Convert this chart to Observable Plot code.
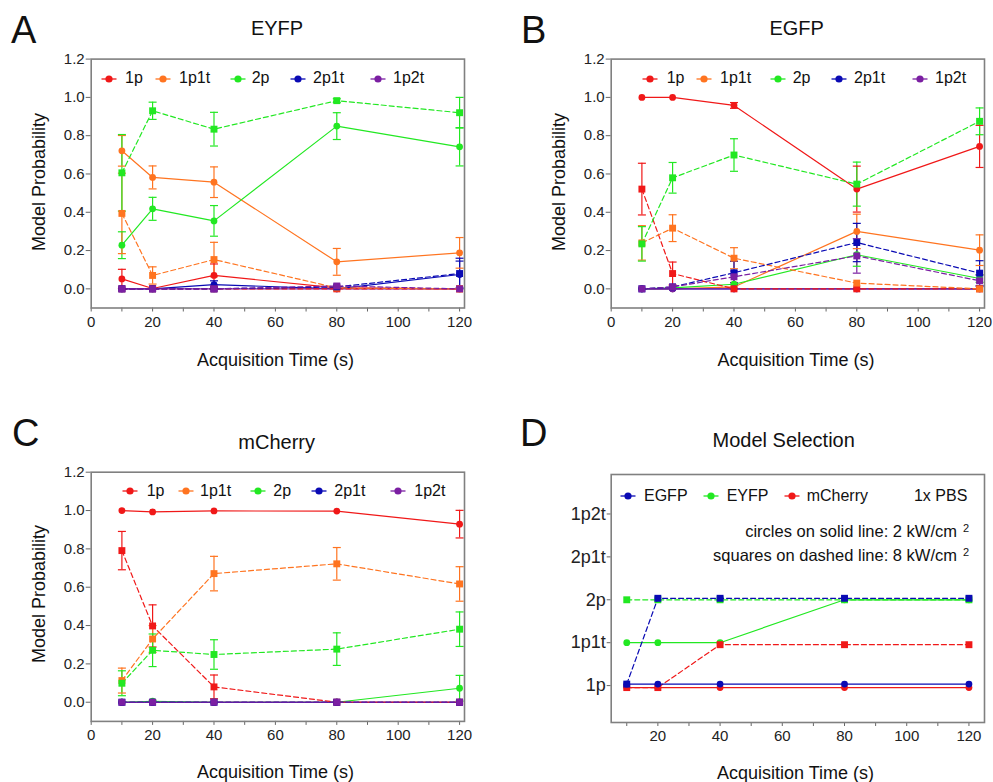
<!DOCTYPE html>
<html><head><meta charset="utf-8">
<script src="https://cdn.jsdelivr.net/npm/d3@7"></script>
<script src="https://cdn.jsdelivr.net/npm/@observablehq/plot@0.6"></script>
<style>
body{margin:0;background:#fff;font-family:"Liberation Sans",Arial,sans-serif;}
#root{position:relative;width:993px;height:782px;overflow:hidden;background:#fff;}
.t{position:absolute;white-space:nowrap;line-height:1;color:#111;}
.p{position:absolute;}
</style></head><body><div id="root"></div>
<script>
// ---------- data ----------
const times = [10, 20, 40, 80, 120];
const models = ["1p", "1p1t", "2p", "2p1t", "1p2t"];
const modelColors = ["#f01818", "#ff7420", "#22e822", "#0a0ab4", "#7b1fa2"];
const xTicksMinor = [0, 10, 20, 30, 40, 50, 60, 70, 80, 90, 100, 110, 120];
const xTicksMajor = [0, 20, 40, 60, 80, 100, 120];
const yTicks = [0, 0.2, 0.4, 0.6, 0.8, 1.0, 1.2];

// EYFP (rows follow models order; columns follow times)
const eyfpSolidMean = [
  [0.052, 0.002, 0.07, 0.005, 0],
  [0.721, 0.582, 0.557, 0.141, 0.188],
  [0.228, 0.418, 0.355, 0.850, 0.742],
  [0, 0, 0.022, 0, 0.075],
  [0, 0, 0, 0, 0]];
const eyfpSolidErr = [
  [0.05, 0, 0.06, 0, 0],
  [0.08, 0.06, 0.08, 0.07, 0.08],
  [0.07, 0.06, 0.08, 0.07, 0.10],
  [0, 0, 0.02, 0, 0.07],
  [0, 0, 0, 0, 0]];
const eyfpDashedMean = [
  [0, 0, 0, 0, 0],
  [0.394, 0.07, 0.153, 0.005, 0],
  [0.606, 0.930, 0.834, 0.983, 0.920],
  [0, 0, 0, 0.01, 0.08],
  [0, 0, 0, 0.015, 0]];
const eyfpDashedErr = [
  [0, 0, 0, 0, 0],
  [0.21, 0.045, 0.09, 0, 0],
  [0.20, 0.045, 0.088, 0.01, 0.08],
  [0, 0, 0, 0, 0.08],
  [0, 0, 0, 0, 0]];

// EGFP
const egfpSolidMean = [
  [1.0, 1.0, 0.958, 0.521, 0.744],
  [0, 0, 0.01, 0.30, 0.202],
  [0, 0.005, 0.024, 0.178, 0.054],
  [0, 0, 0, 0, 0],
  [0, 0, 0, 0, 0]];
const egfpSolidErr = [
  [0, 0, 0.015, 0.12, 0.11],
  [0, 0, 0, 0.09, 0.08],
  [0, 0, 0, 0.06, 0.02],
  [0, 0, 0, 0, 0],
  [0, 0, 0, 0, 0]];
const egfpDashedMean = [
  [0.521, 0.08, 0, 0, 0],
  [0.24, 0.317, 0.16, 0.03, 0],
  [0.235, 0.58, 0.699, 0.547, 0.875],
  [0, 0.01, 0.084, 0.242, 0.082],
  [0, 0.01, 0.063, 0.172, 0.042]];
const egfpDashedErr = [
  [0.135, 0.06, 0, 0, 0],
  [0.09, 0.07, 0.055, 0, 0],
  [0.09, 0.08, 0.085, 0.115, 0.07],
  [0, 0, 0.06, 0.10, 0.065],
  [0, 0, 0.03, 0.09, 0.03]];

// mCherry
const mcherrySolidMean = [
  [1.0, 0.993, 0.998, 0.997, 0.929],
  [0, 0, 0, 0, 0],
  [0, 0.005, 0, 0, 0.073],
  [0, 0, 0, 0, 0],
  [0, 0, 0, 0, 0]];
const mcherrySolidErr = [
  [0, 0, 0, 0, 0.072],
  [0, 0, 0, 0, 0],
  [0, 0.005, 0, 0, 0.067],
  [0, 0, 0, 0, 0],
  [0, 0, 0, 0, 0]];
const mcherryDashedMean = [
  [0.791, 0.398, 0.08, 0, 0],
  [0.113, 0.33, 0.671, 0.722, 0.617],
  [0.099, 0.271, 0.249, 0.277, 0.381],
  [0, 0, 0, 0, 0],
  [0, 0, 0, 0, 0]];
const mcherryDashedErr = [
  [0.10, 0.11, 0.062, 0, 0],
  [0.065, 0.07, 0.09, 0.085, 0.09],
  [0.065, 0.085, 0.077, 0.085, 0.09],
  [0, 0, 0, 0, 0],
  [0, 0, 0, 0, 0]];

// Model selection (panel D)
const proteins = ["EGFP", "EYFP", "mCherry"];
const proteinColors = ["#0a0ab4", "#22e822", "#f01818"];
const selSolid = {
  EGFP: ["1p", "1p", "1p", "1p", "1p"],
  EYFP: ["1p1t", "1p1t", "1p1t", "2p", "2p"],
  mCherry: ["1p", "1p", "1p", "1p", "1p"]};
const selDashed = {
  EGFP: ["1p", "2p", "2p", "2p", "2p"],
  EYFP: ["2p", "2p", "2p", "2p", "2p"],
  mCherry: ["1p", "1p", "1p1t", "1p1t", "1p1t"]};
const dXTicksMinor = [10, 20, 30, 40, 50, 60, 70, 80, 90, 100, 110, 120];
const dXTicksMajor = [20, 40, 60, 80, 100, 120];

// ---------- helpers ----------
const root = document.getElementById("root");
const FONT = '"Liberation Sans", Arial, sans-serif';
const capSymbol = {draw(ctx, size) { const r = Math.sqrt(size / Math.PI); ctx.moveTo(-r, 0); ctx.lineTo(r, 0); }};

function txt(s, x, baseline, fs, anchor = "start", opts = {}) {
  const d = document.createElement("div");
  d.className = "t";
  d.innerHTML = s;
  d.style.fontSize = fs + "px";
  d.style.left = x + "px";
  d.style.top = (baseline - 0.8465 * fs) + "px";
  if (anchor === "middle") d.style.transform = "translateX(-50%)";
  if (anchor === "end") d.style.transform = "translateX(-100%)";
  if (opts.color) d.style.color = opts.color;
  root.appendChild(d);
  return d;
}
function vtxt(s, cx, cy, fs) {
  const d = document.createElement("div");
  d.className = "t";
  d.textContent = s;
  d.style.fontSize = fs + "px";
  d.style.left = cx + "px";
  d.style.top = cy + "px";
  d.style.transform = "translate(-50%,-50%) rotate(-90deg)";
  root.appendChild(d);
}
function swatch(cx, cy, color) {
  const ns = "http://www.w3.org/2000/svg";
  const s = document.createElementNS(ns, "svg");
  s.setAttribute("width", 20); s.setAttribute("height", 12);
  s.style.position = "absolute"; s.style.left = (cx - 10) + "px"; s.style.top = (cy - 6) + "px";
  s.innerHTML = `<line x1="2.5" y1="6" x2="17.5" y2="6" stroke="${color}" stroke-width="1.3"/><circle cx="10" cy="6" r="3.6" fill="${color}"/>`;
  root.appendChild(s);
}
function place(svg, L, T) {
  svg.style.position = "absolute"; svg.style.left = L + "px"; svg.style.top = T + "px";
  svg.style.overflow = "visible";
  root.appendChild(svg);
}
function rowsFor(mean, err, power) {
  const out = [];
  models.forEach((m, i) => times.forEach((t, j) => out.push({model: m, power, x: t, y: mean[i][j], e: err[i][j]})));
  return out;
}

function probPanel(sm, se, dm, de, box) {
  const solid = rowsFor(sm, se, "2 kW/cm2");
  const dashed = rowsFor(dm, de, "8 kW/cm2");
  const bars = solid.concat(dashed).filter(d => d.e > 0);
  const {L, T, W, H, x0, x1, y0, y1} = box;
  const svg = Plot.plot({
    width: W, height: H,
    marginLeft: x0 - L, marginRight: L + W - x1, marginTop: y0 - T, marginBottom: T + H - y1,
    x: {domain: [0, 121.6]},
    y: {domain: [-0.1, 1.2]},
    color: {type: "ordinal", domain: models, range: modelColors},
    style: {fontFamily: FONT, fontSize: "15px", color: "#222", background: "transparent"},
    marks: [
      Plot.axisX({ticks: xTicksMinor, tickFormat: () => "", tickSize: 4, stroke: "#666", label: null}),
      Plot.axisX({ticks: xTicksMajor, tickFormat: d => String(d), tickSize: 0, tickPadding: 8, label: null, fontSize: 15, fill: "#222"}),
      Plot.axisY({ticks: yTicks, tickFormat: d3.format(".1f"), tickSize: 5, tickPadding: 1.5, stroke: "#666", label: null, fontSize: 15, fill: "#222"}),
      Plot.ruleX(bars, {x: "x", y1: d => d.y - d.e, y2: d => d.y + d.e, stroke: "model", strokeWidth: 1.2}),
      Plot.dot(bars, {x: "x", y: d => d.y - d.e, symbol: capSymbol, r: 4, stroke: "model", fill: "none", strokeWidth: 1.2}),
      Plot.dot(bars, {x: "x", y: d => d.y + d.e, symbol: capSymbol, r: 4, stroke: "model", fill: "none", strokeWidth: 1.2}),
      Plot.line(solid, {x: "x", y: "y", z: "model", stroke: "model", strokeWidth: 1.2}),
      Plot.line(dashed, {x: "x", y: "y", z: "model", stroke: "model", strokeWidth: 1.2, strokeDasharray: "5,3"}),
      Plot.dot(solid, {x: "x", y: "y", fill: "model", symbol: "circle", r: 3.4}),
      Plot.dot(dashed, {x: "x", y: "y", fill: "model", symbol: "square", r: 3.9}),
      Plot.frame({stroke: "#808080", strokeWidth: 1.6})
    ]
  });
  place(svg, L, T);
}

function modelLegend(centers, texts, cy, baseline) {
  models.forEach((m, i) => { swatch(centers[i], cy, modelColors[i]); txt(m, texts[i], baseline, 16); });
}

// ---------- panel A ----------
probPanel(eyfpSolidMean, eyfpSolidErr, eyfpDashedMean, eyfpDashedErr,
  {L: 0, T: 0, W: 496, H: 345, x0: 90.7, x1: 464, y0: 58.6, y1: 307.5});
txt("A", 11, 42.7, 38);
txt("EYFP", 277, 35, 20, "middle");
vtxt("Model Probability", 38.5, 182, 18);
txt("Acquisition Time (s)", 275.5, 366, 18, "middle");
modelLegend([109, 163, 237.5, 297.5, 377.5], [125, 179, 251.7, 313, 393], 78.5, 84);

// ---------- panel B ----------
probPanel(egfpSolidMean, egfpSolidErr, egfpDashedMean, egfpDashedErr,
  {L: 500, T: 0, W: 493, H: 345, x0: 610.7, x1: 984, y0: 58.6, y1: 307.5});
txt("B", 521, 42.7, 38);
txt("EGFP", 796.7, 35, 20, "middle");
vtxt("Model Probability", 558.5, 182, 18);
txt("Acquisition Time (s)", 796, 366, 18, "middle");
modelLegend([650, 704, 778.3, 839, 920], [666.7, 720, 792.7, 854, 935], 78.5, 84);

// ---------- panel C ----------
probPanel(mcherrySolidMean, mcherrySolidErr, mcherryDashedMean, mcherryDashedErr,
  {L: 0, T: 400, W: 496, H: 350, x0: 90.7, x1: 464, y0: 471.7, y1: 720.9});
txt("C", 12, 446.5, 38);
txt("mCherry", 276.7, 449, 20, "middle");
vtxt("Model Probability", 38.5, 594, 18);
txt("Acquisition Time (s)", 275.5, 778, 18, "middle");
modelLegend([130.3, 185.5, 257.5, 319, 397.5], [146.7, 200, 273.3, 334.3, 414.3], 490.7, 496.5);

// ---------- panel D ----------
(function () {
  const L = 500, T = 400, W = 493, H = 350, x0 = 610.7, x1 = 984, y0 = 474, y1 = 722;
  const offsets = {EGFP: -1.5, EYFP: 0, mCherry: 2};
  const drawOrder = ["EYFP", "mCherry", "EGFP"];
  const marks = [
    Plot.axisX({ticks: dXTicksMinor, tickFormat: () => "", tickSize: 4, stroke: "#666", label: null}),
    Plot.axisX({ticks: dXTicksMajor, tickFormat: d => String(d), tickSize: 0, tickPadding: 8, label: null, fontSize: 15, fill: "#222"}),
    Plot.axisY({ticks: [1, 2, 3, 4, 5], tickFormat: d => models[d - 1], tickSize: 4, tickPadding: 1.5, stroke: "#666", label: null, fontSize: 18, fill: "#222"})
  ];
  for (const p of drawOrder) {
    const color = proteinColors[proteins.indexOf(p)];
    const solid = times.map((t, j) => ({protein: p, x: t, y: models.indexOf(selSolid[p][j]) + 1}));
    const dashed = times.map((t, j) => ({protein: p, x: t, y: models.indexOf(selDashed[p][j]) + 1}));
    const dy = offsets[p];
    marks.push(
      Plot.line(solid, {x: "x", y: "y", stroke: color, strokeWidth: 1.2, dy}),
      Plot.line(dashed, {x: "x", y: "y", stroke: color, strokeWidth: 1.2, strokeDasharray: "5,3", dy}),
      Plot.dot(solid, {x: "x", y: "y", fill: color, symbol: "circle", r: 3.4, dy}),
      Plot.dot(dashed, {x: "x", y: "y", fill: color, symbol: "square", r: 3.9, dy})
    );
  }
  marks.push(Plot.frame({stroke: "#808080", strokeWidth: 1.6}));
  const svg = Plot.plot({
    width: W, height: H,
    marginLeft: x0 - L, marginRight: L + W - x1, marginTop: y0 - T, marginBottom: T + H - y1,
    x: {domain: [5, 125]},
    y: {domain: [0.14, 5.92]},
    style: {fontFamily: FONT, fontSize: "15px", color: "#222", background: "transparent"},
    marks
  });
  place(svg, L, T);
})();
txt("D", 520, 446.5, 38);
txt("Model Selection", 783.7, 447, 20, "middle");
txt("Acquisition Time (s)", 795.5, 779.5, 18, "middle");
const dLegCenters = [627.8, 710.5, 791.5];
const dLegTexts = [644, 726.7, 806.7];
proteins.forEach((p, i) => { swatch(dLegCenters[i], 496, proteinColors[i]); txt(p, dLegTexts[i], 501.5, 16); });
txt("1x PBS", 967.3, 501.5, 16, "end");
txt("circles on solid line: 2 kW/cm", 957, 537, 16.5, "end");
txt("2", 963, 532.5, 11);
txt("squares on dashed line: 8 kW/cm", 957, 561, 16.5, "end");
txt("2", 963, 556.5, 11);
</script>
</body></html>
